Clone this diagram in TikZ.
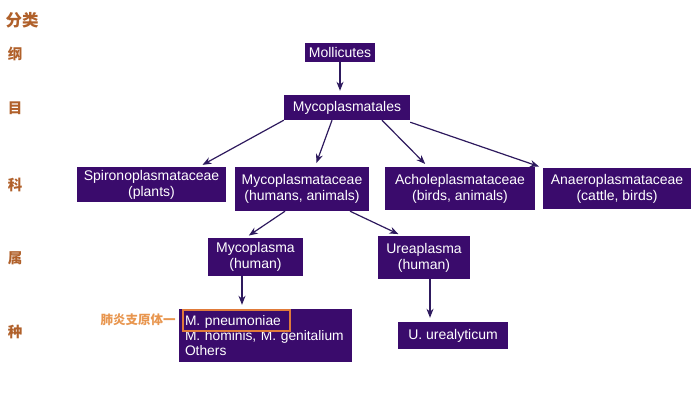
\documentclass[tikz,border=0pt]{standalone}
\usepackage{fontspec}
\setmainfont{Liberation Sans}
\newfontfamily\cjk{Noto Sans CJK SC}
\usetikzlibrary{arrows.meta, calc, positioning}
\definecolor{taxonfill}{HTML}{3A0B6C}
\definecolor{linkcol}{HTML}{2E1A5E}
\definecolor{rankcol}{HTML}{B0602A}
\definecolor{notecol}{HTML}{E8964F}
\definecolor{hilite}{HTML}{E07B3A}
\tikzstyle{taxon} = [rectangle, fill=taxonfill, text=white, align=center, inner sep=0pt, font=\fontsize{14}{16}\selectfont]
\tikzstyle{rank} = [text=rankcol, font=\cjk\bfseries\fontsize{14.5}{15}\selectfont]
\tikzstyle{link} = [-{Stealth[length=9pt,width=7pt]}, line width=1.2pt, draw=linkcol, shorten >=4pt]

\begin{document}
\begin{tikzpicture}[x=1pt, y=-1pt]
		\useasboundingbox (0,0) rectangle (700,404);
		% ranks
		\node[rank, font=\cjk\bfseries\fontsize{16.5}{17}\selectfont] (fenlei) at (22,20) {分类};
		\node[rank] (gang) at (15,54) {纲};
		\node[rank] (mu) at (15,108) {目};
		\node[rank] (ke) at (15,185) {科};
		\node[rank] (shu) at (15,258) {属};
		\node[rank] (zhong) at (15,332) {种};
		
		% taxa
		\node (mollicutes) [taxon, minimum width=70pt, minimum height=19pt] at (340,52.5) {Mollicutes};
		\node (order) [taxon, minimum width=126pt, minimum height=25pt] at (347,107.5) {Mycoplasmatales};
		\node (spiro) [taxon, minimum width=149pt, minimum height=35pt] at (151.5,184.5) {Spironoplasmataceae\\(plants)};
		\node (mycofam) [taxon, minimum width=134pt, minimum height=44pt] at (302,189) {Mycoplasmataceae\\(humans, animals)};
		\node (achole) [taxon, minimum width=150pt, minimum height=43pt] at (460,188.5) {Acholeplasmataceae\\(birds, animals)};
		\node (anaero) [taxon, minimum width=148pt, minimum height=41pt] at (617,188.5) {Anaeroplasmataceae\\(cattle, birds)};
		\node (mycogen) [taxon, minimum width=95pt, minimum height=38pt] at (255.5,257) {Mycoplasma\\(human)};
		\node (ureagen) [taxon, minimum width=92pt, minimum height=43pt] at (424,257.5) {Ureaplasma\\(human)};
		\node (species) [taxon, minimum width=173pt, minimum height=53pt, align=left, text width=161pt, font=\fontsize{13.8}{15}\selectfont] at (265.5,335.5) {M. pneumoniae\\M. hominis, M. genitalium\\Others};
		\node (urealyt) [taxon, minimum width=110pt, minimum height=27pt] at (453,335.5) {U. urealyticum};
		
		% highlight
		\node (pneubox) [draw=hilite, line width=1.8pt, minimum width=107pt, minimum height=21pt, anchor=north west, inner sep=0pt] at ($(species.north west) + (3,0)$) {};
		\node (pneulabel) [left=6pt of pneubox, inner sep=0pt, text=notecol, font=\cjk\bfseries\fontsize{12.5}{13}\selectfont] {肺炎支原体一};
		
		\draw[link] (mollicutes) -- (mollicutes |- order.north);
		\draw[link] (order.south west) -- ([xshift=47.5pt]spiro.north);
		\draw[link] ([xshift=-15pt]order.south) -- ([xshift=13pt]mycofam.north);
		\draw[link] ([xshift=35pt]order.south) -- ([xshift=-32pt]achole.north);
		\draw[link] ([yshift=-2pt]order.south east) -- (anaero.north west);
		\draw[link] ([xshift=-17pt]mycofam.south) -- ([xshift=-10pt]mycogen.north);
		\draw[link] ([xshift=48pt]mycofam.south) -- ([xshift=-22pt]ureagen.north);
		\draw[link] ([xshift=-13.5pt]mycogen.south) -- ([xshift=-23.5pt]species.north);
		\draw[link] ([xshift=6pt]ureagen.south) -- ([xshift=-23pt]urealyt.north);
	\end{tikzpicture}
\end{document}
